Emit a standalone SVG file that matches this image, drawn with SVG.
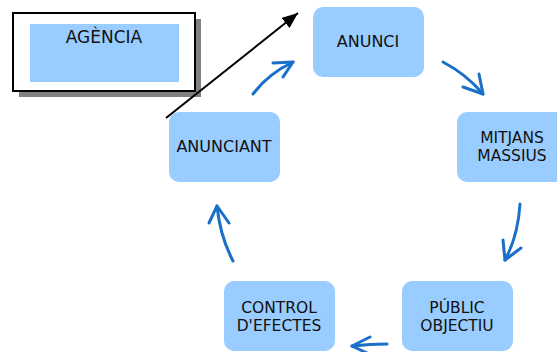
<svg xmlns="http://www.w3.org/2000/svg" width="557" height="352" viewBox="0 0 557 352">
  <style>
    .node { fill: #99ccff; }
    .label { font-family: "DejaVu Sans", Verdana, sans-serif; font-size: 15.5px; fill: #111111; text-anchor: middle; }
    .flow { fill: none; stroke: #1a6fc8; stroke-width: 3; stroke-linecap: round; stroke-linejoin: round; }
  </style>
  <defs>
    <marker id="solid-head" viewBox="0 0 16 13" refX="16" refY="6.5" markerWidth="16" markerHeight="13" orient="auto" markerUnits="userSpaceOnUse">
      <path d="M0,0 L16,6.5 L0,13 z" fill="#000"/>
    </marker>
  </defs>
  <rect width="557" height="352" fill="#ffffff"/>

  <!-- agency box with drop shadow -->
  <g id="agencia">
    <rect x="19" y="19" width="182" height="78" fill="#808080"/>
    <rect x="13" y="13" width="182" height="78" fill="#ffffff" stroke="#000" stroke-width="2"/>
    <rect x="30" y="24" width="149" height="58" class="node"/>
    <text x="104" y="43" class="label" style="font-size:17px">AGÈNCIA</text>
  </g>

  <g id="anunci">
    <rect x="313" y="7" width="111" height="70" rx="10" class="node"/>
    <text x="368" y="47" class="label" style="font-size:16px">ANUNCI</text>
  </g>

  <g id="mitjans">
    <rect x="457" y="112" width="110" height="70" rx="10" class="node"/>
    <text x="512" y="143" class="label">MITJANS</text>
    <text x="512" y="161" class="label">MASSIUS</text>
  </g>

  <g id="public">
    <rect x="402" y="281" width="111" height="70" rx="10" class="node"/>
    <text x="457" y="313" class="label">PÚBLIC</text>
    <text x="457" y="331" class="label">OBJECTIU</text>
  </g>

  <g id="control">
    <rect x="224" y="281" width="111" height="70" rx="10" class="node"/>
    <text x="279" y="313" class="label">CONTROL</text>
    <text x="279" y="331" class="label">D'EFECTES</text>
  </g>

  <g id="anunciant">
    <rect x="169" y="112" width="111" height="70" rx="10" class="node"/>
    <text x="224" y="152" class="label" style="font-size:16px">ANUNCIANT</text>
  </g>

  <g id="connectors">
    <!-- agency to advert -->
    <line x1="166" y1="118" x2="298" y2="13" stroke="#000" stroke-width="2" marker-end="url(#solid-head)"/>
    <!-- cycle -->
    <path class="flow" d="M253,94 Q268,74 293,62"/>
    <path class="flow" d="M273,63 L293,62 L283,77"/>
    <path class="flow" d="M443,62 Q466,74 483,94"/>
    <path class="flow" d="M463,87 L483,94 L479,74"/>
    <path class="flow" d="M520,204 Q518,236 505,260"/>
    <path class="flow" d="M503,240 L505,260 L521,248"/>
    <path class="flow" d="M387,344 Q370,344 352,346"/>
    <path class="flow" d="M370,337 L352,346 L369,354"/>
    <path class="flow" d="M233,261 Q220,236 217,206"/>
    <path class="flow" d="M209,223 L217,206 L229,223"/>
  </g>
</svg>
